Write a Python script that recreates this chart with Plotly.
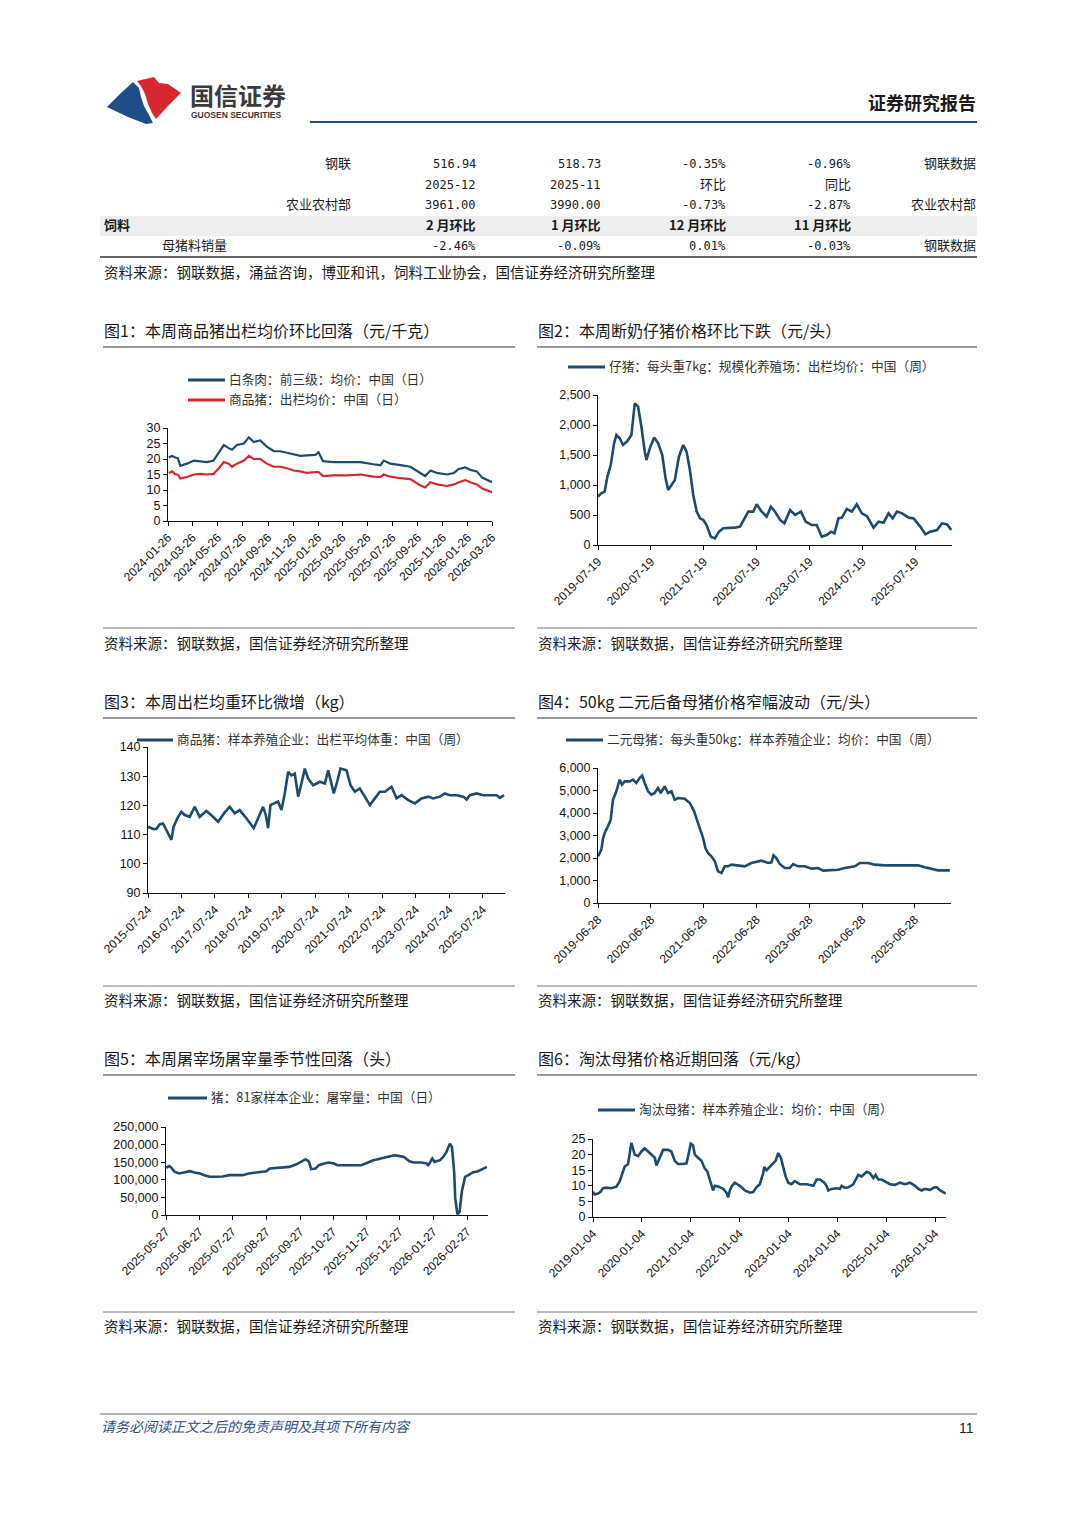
import plotly.graph_objects as go

W, H = 1080, 1527
OFF = 8                      # page body margin of the browser
FW, FH = W - OFF, H - OFF    # figure size so that the page fits the window
CJK = "Noto Sans CJK SC"
LAT = "Liberation Sans, Arial"
MONO = "DejaVu Sans Mono"
BLUE = "#1d4b6f"
RED = "#d9262c"

def PX(x):
    return (x - OFF) / FW

def PY(y):
    return 1 - (y - OFF) / FH

# ---------------- data ----------------
# Chart 1: white-strip pork vs live hog price (yuan/kg)
c1_dates = ["2024-01-28","2024-02-05","2024-02-13","2024-02-19","2024-02-25","2024-03-12","2024-03-29","2024-04-14","2024-04-30","2024-05-16",
            "2024-05-29","2024-06-10","2024-06-22","2024-06-30","2024-07-12","2024-07-29","2024-08-10","2024-08-22","2024-09-07","2024-09-23",
            "2024-10-10","2024-10-26","2024-11-11","2024-11-27","2024-12-14","2024-12-30","2025-01-19","2025-01-27","2025-02-07","2025-03-05",
            "2025-04-06","2025-05-09","2025-06-10","2025-06-27","2025-07-05","2025-07-21","2025-08-15","2025-09-08","2025-10-02","2025-10-14",
            "2025-10-27","2025-11-12","2025-12-06","2025-12-23","2026-01-04","2026-01-20","2026-02-01","2026-02-17","2026-03-02","2026-03-26"]
c1_pork = [20.5,21,20.5,20.3,17.8,18.5,19.5,19.3,19,19.5,
           22,24.5,23.5,23,24.5,25,27,25.5,26,24,
           22.5,22.5,22,21.5,21,21.2,21.3,22.2,19.3,19,
           19,19,18.3,18,19.5,18.5,18,17.5,15.5,14.5,
           16.3,15.5,15,15.5,16.8,17.3,16.5,16,14,12.5]
c1_hog = [15.5,16,15,15,13.7,14.2,15,15.2,15,15.2,
          17,19,18.5,17.5,18.5,19.5,21,20,20,18.5,
          17.5,17.5,17,16.3,16,15.5,15.8,15.8,14.5,14.7,
          14.7,15,14.3,14.2,15,14.3,13.8,13.5,11.5,10.8,
          12.5,11.8,11.3,11.8,12.5,13.2,12.5,11.8,10.5,9.3]
c1_ticks = ["2024-01-26","2024-03-26","2024-05-26","2024-07-26","2024-09-26","2024-11-26","2025-01-26",
            "2025-03-26","2025-05-26","2025-07-26","2025-09-26","2025-11-26","2026-01-26","2026-03-26"]

# Chart 2: weaned piglet price (yuan/head)
c2_dates = ["2019-07-19","2019-08-11","2019-09-03","2019-09-22","2019-10-15","2019-11-07","2019-11-23","2019-12-16","2020-01-08","2020-02-07",
            "2020-03-06","2020-03-29","2020-04-21","2020-05-14","2020-06-06","2020-06-18","2020-07-11","2020-08-10","2020-09-07","2020-10-05",
            "2020-10-28","2020-11-15","2020-12-08","2020-12-31","2021-01-28","2021-02-27","2021-03-22","2021-04-14","2021-05-07","2021-05-31",
            "2021-06-23","2021-07-16","2021-08-07","2021-09-06","2021-10-04","2021-11-01","2021-12-01","2022-01-04","2022-02-19","2022-03-26",
            "2022-04-25","2022-05-23","2022-06-26","2022-07-19","2022-08-23","2022-09-26","2022-10-26","2022-11-23","2022-12-28","2023-01-27",
            "2023-03-07","2023-04-11","2023-05-22","2023-06-23","2023-08-04","2023-09-07","2023-10-12","2023-11-15","2023-12-15","2024-01-08",
            "2024-02-04","2024-02-28","2024-04-02","2024-05-07","2024-06-10","2024-07-15","2024-08-19","2024-10-04","2024-11-08","2024-12-12",
            "2025-01-16","2025-02-13","2025-03-15","2025-04-19","2025-06-04","2025-07-08","2025-08-23","2025-09-27","2025-10-31","2025-12-16",
            "2026-01-20","2026-02-24","2026-03-25"]
c2_vals = [805,860,890,1140,1333,1690,1833,1780,1667,1733,
           1833,2360,2305,1970,1556,1417,1611,1790,1694,1500,
           1111,917,1000,1083,1472,1667,1556,1250,833,556,
           444,417,333,139,111,222,278,278,289,306,
           444,556,556,678,556,472,639,556,417,361,
           583,500,556,389,333,333,139,167,222,194,
           444,456,600,556,678,528,483,289,389,372,
           528,444,556,528,456,444,306,178,222,250,
           361,344,250]
c2_ticks = ["2019-07-19","2020-07-19","2021-07-19","2022-07-19","2023-07-19","2024-07-19","2025-07-19"]

# Chart 3: average slaughter weight (kg)
c3_dates = ["2015-07-24","2015-09-17","2015-10-23","2015-11-28","2016-01-04","2016-02-09","2016-03-17","2016-04-04","2016-04-29","2016-06-16",
            "2016-07-22","2016-08-28","2016-10-21","2016-12-15","2017-02-07","2017-04-21","2017-07-03","2017-08-27","2017-11-08","2018-01-01",
            "2018-02-25","2018-04-20","2018-07-02","2018-08-26","2018-09-20","2018-11-07","2018-12-31","2019-01-30","2019-02-24","2019-03-22",
            "2019-05-08","2019-06-13","2019-07-20","2019-08-25","2019-10-01","2019-11-06","2019-12-12","2020-01-18","2020-02-23","2020-03-31",
            "2020-05-06","2020-06-30","2020-09-11","2020-11-04","2020-12-11","2021-01-16","2021-02-10","2021-03-19","2021-04-24","2021-06-29",
            "2021-08-12","2021-09-28","2021-11-21","2022-01-15","2022-03-11","2022-05-04","2022-06-28","2022-08-22","2022-11-02","2022-12-27",
            "2023-02-20","2023-05-04","2023-07-15","2023-09-26","2023-12-08","2024-02-01","2024-04-13","2024-06-07","2024-08-01","2024-10-13",
            "2024-12-24","2025-01-30","2025-03-07","2025-05-19","2025-07-31","2025-10-12","2025-12-24","2026-01-29","2026-03-14"]
c3_vals = [112.7,111.9,111.9,113.5,113.8,111.6,109.3,108.2,112.7,116.1,
           117.8,116.7,116.1,119.5,116.1,118.1,116.1,114.4,117.6,119.5,
           117.3,118.4,115.6,113.3,112.2,115.6,119.5,116.7,112.2,120.1,
           120.7,121.3,118.4,124.1,131.5,130.3,130.9,123.0,127.5,132.6,
           129.2,126.9,128.1,127.5,132.0,126.9,124.1,128.1,132.6,132.0,
           126.9,124.7,125.8,123.0,120.1,122.4,124.7,124.7,126.4,122.4,
           123.5,121.8,120.7,122.4,123.0,122.4,123.0,124.1,123.5,123.5,
           123.0,122.0,123.5,124.1,123.5,123.5,123.5,122.6,123.5]
c3_ticks = ["2015-07-24","2016-07-24","2017-07-24","2018-07-24","2019-07-24","2020-07-24",
            "2021-07-24","2022-07-24","2023-07-24","2024-07-24","2025-07-24"]

# Chart 4: 50kg binary gilt price (yuan/head)
c4_dates = ["2019-06-28","2019-07-21","2019-08-02","2019-08-18","2019-09-05","2019-09-24","2019-10-10","2019-11-02","2019-11-25","2019-12-11",
            "2019-12-30","2020-02-02","2020-02-25","2020-03-19","2020-04-11","2020-04-28","2020-05-16","2020-06-08","2020-07-01","2020-07-24",
            "2020-08-16","2020-09-04","2020-10-01","2020-10-25","2020-11-17","2020-12-10","2021-01-02","2021-02-17","2021-03-24","2021-04-23",
            "2021-05-16","2021-06-01","2021-06-24","2021-07-10","2021-07-28","2021-08-20","2021-09-13","2021-10-06","2021-10-29","2021-11-21",
            "2021-12-14","2022-01-06","2022-02-21","2022-04-08","2022-05-24","2022-06-28","2022-08-02","2022-09-17","2022-10-10","2022-10-24",
            "2022-11-13","2022-12-06","2023-01-10","2023-02-14","2023-03-09","2023-04-12","2023-05-29","2023-07-14","2023-08-29","2023-10-02",
            "2023-11-29","2024-01-14","2024-02-29","2024-05-09","2024-06-12","2024-08-09","2024-09-24","2024-12-02","2025-03-28","2025-07-21",
            "2025-09-05","2025-10-21","2025-12-06","2026-02-25"]
c4_vals = [2074,2370,2889,3185,3407,3704,4593,4963,5481,5259,
           5407,5407,5481,5333,5556,5659,5333,4963,4815,4889,
           5111,4889,5185,4889,4963,4593,4667,4637,4444,4074,
           3630,3333,2889,2444,2222,2074,1852,1407,1333,1630,
           1630,1704,1674,1630,1778,1822,1881,1778,1807,2119,
           2000,1733,1556,1556,1733,1630,1630,1526,1556,1437,
           1452,1481,1556,1630,1778,1778,1704,1674,1674,1674,
           1585,1511,1452,1452]
c4_ticks = ["2019-06-28","2020-06-28","2021-06-28","2022-06-28","2023-06-28","2024-06-28","2025-06-28"]

# Chart 5: daily slaughter volume, 81 sample companies (head)
c5_dates = ["2025-05-27","2025-05-30","2025-06-01","2025-06-04","2025-06-08","2025-06-13","2025-06-18","2025-06-22","2025-06-27","2025-07-01",
            "2025-07-06","2025-07-12","2025-07-18","2025-07-24","2025-07-30","2025-08-05","2025-08-11","2025-08-17","2025-08-24","2025-08-27",
            "2025-08-30","2025-09-05","2025-09-11","2025-09-17","2025-09-23","2025-09-28","2025-10-02","2025-10-05","2025-10-07","2025-10-11",
            "2025-10-14","2025-10-19","2025-10-23","2025-10-28","2025-10-31","2025-11-08","2025-11-16","2025-11-22","2025-11-28","2025-12-03",
            "2025-12-07","2025-12-12","2025-12-18","2025-12-22","2025-12-26","2025-12-31","2026-01-05","2026-01-09","2026-01-16","2026-01-21",
            "2026-01-22","2026-01-26","2026-01-28","2026-02-02","2026-02-05","2026-02-08","2026-02-11","2026-02-13","2026-02-15","2026-02-16",
            "2026-02-18","2026-02-20","2026-02-22","2026-02-25","2026-02-28","2026-03-04","2026-03-09","2026-03-14","2026-03-17"]
c5_vals = [134000,139000,134000,122600,118000,120800,124500,120800,118000,113200,
           108500,108500,109400,113200,113200,113200,118000,119800,122600,124500,
           132000,134000,134000,136800,143400,152800,158500,151000,130200,132000,
           141500,146200,149000,146200,141500,141500,141500,141500,149000,155700,
           158500,162300,167900,169800,167900,165000,152800,149000,149000,146200,
           139600,160400,151000,155700,165000,179200,202800,193400,122600,47200,
           1900,9400,66000,108500,113200,120800,124500,132000,136800]
c5_ticks = ["2025-05-27","2025-06-27","2025-07-27","2025-08-27","2025-09-27",
            "2025-10-27","2025-11-27","2025-12-27","2026-01-27","2026-02-27"]

# Chart 6: cull sow price (yuan/kg)
c6_dates = ["2019-01-04","2019-01-16","2019-02-10","2019-03-02","2019-03-20","2019-04-14","2019-05-21","2019-06-28","2019-07-23","2019-08-09",
            "2019-08-29","2019-09-23","2019-10-18","2019-11-12","2019-12-07","2020-01-01","2020-01-26","2020-02-20","2020-03-16","2020-04-10",
            "2020-04-22","2020-05-17","2020-06-11","2020-07-18","2020-08-12","2020-09-06","2020-10-01","2020-11-08","2020-12-03","2020-12-15",
            "2021-01-04","2021-01-21","2021-02-03","2021-02-28","2021-03-25","2021-04-19","2021-05-09","2021-05-26","2021-06-08","2021-06-20",
            "2021-07-03","2021-07-28","2021-09-03","2021-09-28","2021-10-10","2021-10-23","2021-11-09","2021-11-29","2022-01-06","2022-02-12",
            "2022-03-22","2022-04-16","2022-05-10","2022-06-04","2022-06-29","2022-07-07","2022-07-24","2022-08-31","2022-09-12","2022-09-30",
            "2022-10-20","2022-11-09","2022-11-26","2022-12-14","2023-01-03","2023-01-27","2023-02-21","2023-03-31","2023-05-20","2023-07-09",
            "2023-08-03","2023-08-28","2023-09-29","2023-10-16","2023-10-29","2023-11-23","2023-12-30","2024-01-24","2024-02-06","2024-03-02",
            "2024-03-27","2024-05-03","2024-05-15","2024-06-09","2024-07-04","2024-08-11","2024-09-05","2024-09-30","2024-10-17","2024-11-06",
            "2024-12-01","2024-12-26","2025-02-01","2025-03-11","2025-04-17","2025-05-25","2025-07-01","2025-08-08","2025-09-02","2025-09-26",
            "2025-10-21","2025-11-28","2025-12-30","2026-01-17","2026-02-11","2026-03-25"]
c6_vals = [8.1,7.2,7.5,8.1,9.2,9.4,9.2,9.7,11.5,14,
           16.2,17,23.8,20,19.5,21,22,21,20,19,
           16.5,19,21.5,21.5,21,18,17,17,17.2,19.5,
           23.5,23,20,19,18,15.5,14.5,12,10.5,8.5,
           10,9.8,9,7.8,6.3,8.5,10,11,10,8.5,
           7.8,8,9.5,10.5,14,16,15,16.5,17,18,
           20.5,19,16,13,11,10.5,11.5,10.5,10.5,10,
           12,12,11,10,8.5,9,9.2,9,10,9.3,
           9.5,10.5,11.5,13.5,13,14.5,14,12.5,13.5,12,
           12,11.3,10.5,10.3,11,10.5,11,10,9,8.5,
           9,8.7,9.5,9.5,8.5,7.5]
c6_ticks = ["2019-01-04","2020-01-04","2021-01-04","2022-01-04","2023-01-04","2024-01-04","2025-01-04","2026-01-04"]

# Table
table_rows = [
    ["钢联", "516.94", "518.73", "-0.35%", "-0.96%", "钢联数据"],
    ["", "2025-12", "2025-11", "环比", "同比", ""],
    ["农业农村部", "3961.00", "3990.00", "-0.73%", "-2.87%", "农业农村部"],
    ["饲料", "2 月环比", "1 月环比", "12 月环比", "11 月环比", ""],
    ["母猪料销量", "-2.46%", "-0.09%", "0.01%", "-0.03%", "钢联数据"],
]

titles = ["图1：本周商品猪出栏均价环比回落（元/千克）",
          "图2：本周断奶仔猪价格环比下跌（元/头）",
          "图3：本周出栏均重环比微增（kg）",
          "图4：50kg 二元后备母猪价格窄幅波动（元/头）",
          "图5：本周屠宰场屠宰量季节性回落（头）",
          "图6：淘汰母猪价格近期回落（元/kg）"]
legend_names = [["白条肉：前三级：均价：中国（日）", "商品猪：出栏均价：中国（日）"],
                ["仔猪：每头重7kg：规模化养殖场：出栏均价：中国（周）"],
                ["商品猪：样本养殖企业：出栏平均体重：中国（周）"],
                ["二元母猪：每头重50kg：样本养殖企业：均价：中国（周）"],
                ["猪：81家样本企业：屠宰量：中国（日）"],
                ["淘汰母猪：样本养殖企业：均价：中国（周）"]]
chart_source = "资料来源：钢联数据，国信证券经济研究所整理"
table_source = "资料来源：钢联数据，涌益咨询，博亚和讯，饲料工业协会，国信证券经济研究所整理"

# ---------------- figure ----------------
fig = go.Figure()
annotations = []
shapes = []

def txt(x, y, s, size=13, anchor="left", color="#222", family=CJK):
    if family == CJK:
        y -= 1.5   # CJK line box sits a little low
    annotations.append(dict(x=PX(x), y=PY(y), xref="paper", yref="paper", text=s,
                            showarrow=False, xanchor=anchor, yanchor="middle",
                            borderpad=0,
                            font=dict(family=family, size=size, color=color)))

def hline(x0, x1, y, color="#444", width=1):
    shapes.append(dict(type="line", xref="paper", yref="paper",
                       x0=PX(x0), x1=PX(x1), y0=PY(y), y1=PY(y),
                       line=dict(color=color, width=width)))

def rect(x0, x1, y0, y1, color):
    shapes.append(dict(type="rect", xref="paper", yref="paper",
                       x0=PX(x0), x1=PX(x1), y0=PY(y1), y1=PY(y0),
                       line=dict(width=0), fillcolor=color, layer="below"))

def poly(pts, color):
    p = "M " + " L ".join(f"{PX(a):.5f},{PY(b):.5f}" for a, b in pts) + " Z"
    shapes.append(dict(type="path", xref="paper", yref="paper", path=p,
                       fillcolor=color, line=dict(width=0)))

charts = [
    dict(series=[(c1_dates, c1_pork, BLUE, 2.2), (c1_dates, c1_hog, RED, 2.2)],
         box=(168, 492, 428, 521), yr=[0, 30], yt=list(range(0, 31, 5)),
         xr=["2024-01-26", "2026-03-26"], xt=c1_ticks, leg=(188, 225, [380, 400])),
    dict(series=[(c2_dates, c2_vals, BLUE, 2.6)],
         box=(598, 952, 395, 545), yr=[0, 2500], yt=list(range(0, 2501, 500)),
         xr=["2019-07-19", "2026-03-30"], xt=c2_ticks, leg=(568, 605, [367])),
    dict(series=[(c3_dates, c3_vals, BLUE, 2.6)],
         box=(148, 505, 747, 893), yr=[90, 140], yt=list(range(90, 141, 10)),
         xr=["2015-07-24", "2026-03-25"], xt=c3_ticks, leg=(137, 173, [740])),
    dict(series=[(c4_dates, c4_vals, BLUE, 2.6)],
         box=(598, 951, 768, 903), yr=[0, 6000], yt=list(range(0, 6001, 1000)),
         xr=["2019-06-28", "2026-03-05"], xt=c4_ticks, leg=(566, 603, [740])),
    dict(series=[(c5_dates, c5_vals, BLUE, 2.6)],
         box=(166, 488, 1127, 1215), yr=[0, 250000], yt=list(range(0, 250001, 50000)),
         xr=["2025-05-27", "2026-03-18"], xt=c5_ticks, leg=(168, 207, [1098])),
    dict(series=[(c6_dates, c6_vals, BLUE, 2.6)],
         box=(593, 946, 1139, 1217), yr=[0, 25], yt=list(range(0, 26, 5)),
         xr=["2019-01-04", "2026-03-27"], xt=c6_ticks, leg=(598, 635, [1110])),
]

axis_common = dict(showline=True, linecolor="#111", linewidth=1, ticks="outside",
                   ticklen=4, tickcolor="#111", showgrid=False, zeroline=False,
                   fixedrange=True, automargin=False)
layout_axes = {}
for i, c in enumerate(charts, start=1):
    sx = "" if i == 1 else str(i)
    x0, x1, ytop, ybot = c["box"]
    for (xs, ys, col, w) in c["series"]:
        fig.add_trace(go.Scatter(x=xs, y=ys, mode="lines", line=dict(color=col, width=w),
                                 xaxis="x" + sx, yaxis="y" + sx, hoverinfo="skip",
                                 showlegend=False))
    layout_axes["xaxis" + sx] = dict(axis_common, domain=[PX(x0), PX(x1)], type="date",
                                     range=c["xr"], anchor="y" + sx, tickvals=c["xt"],
                                     ticktext=c["xt"], tickangle=-45,
                                     tickfont=dict(family=LAT, size=12, color="#111"))
    layout_axes["yaxis" + sx] = dict(axis_common, domain=[PY(ybot), PY(ytop)],
                                     range=c["yr"], anchor="x" + sx, tickvals=c["yt"],
                                     tickformat=",", tickfont=dict(family=LAT, size=12.5, color="#111"))
    lx0, lx1, lys = c["leg"]
    for k, ly in enumerate(lys):
        col = c["series"][k][2]
        shapes.append(dict(type="line", xref="paper", yref="paper", x0=PX(lx0), x1=PX(lx1),
                           y0=PY(ly), y1=PY(ly), line=dict(color=col, width=3)))
        txt(lx1 + 3, ly, legend_names[i - 1][k], size=12.7, color="#333")

# titles, rules, sources
rows_y = [(331, 347, 628, 644), (702, 718, 986, 1001), (1059, 1075, 1312, 1327)]
for r, (ty, ry, by, sy) in enumerate(rows_y):
    for side, (lx, rx) in enumerate([(103, 515), (537, 977)]):
        txt(lx, ty, titles[r * 2 + side], size=16, color="#1a1a1a")
        hline(lx, rx, ry, color="#333", width=1.2)
        hline(lx, rx, by, color="#777", width=1.2)
        txt(lx, sy, chart_source, size=14.5, color="#1a1a1a")

# header
poly([(107, 107), (121, 93), (133, 82), (139, 88), (141, 97), (144, 106), (149, 115),
      (153, 123), (146, 124), (128, 117)], "#1d4e89")
poly([(137, 81), (154, 77), (159, 83), (168, 84), (181, 93), (168, 106), (156, 119),
      (152, 113), (148, 104), (145, 94), (141, 86)], "#d7282f")
txt(189, 96, "<b>国信证券</b>", size=24, color="#3a3a3a")
txt(190, 115, "<b>GUOSEN SECURITIES</b>", size=8.5, color="#3a3a3a", family=LAT)
txt(977, 103, "<b>证券研究报告</b>", size=18, anchor="right", color="#1a1a1a")
hline(310, 977, 122, color="#1e4d78", width=2.2)

# table
rect(100, 977, 216, 236, "#eeeeee")
row_y = [164, 185, 205, 226, 246]
col_right = [352, 477, 602, 727, 852, 977]
for ri, row in enumerate(table_rows):
    for ci, cell in enumerate(row):
        if not cell:
            continue
        is_num = all(ch in "0123456789.-%" for ch in cell)
        fam = MONO if is_num else CJK
        size = 12 if is_num else 13
        s = f"<b>{cell}</b>" if ri == 3 else cell
        if ci == 0 and ri == 3:
            txt(103, row_y[ri], s, size=13, color="#1a1a1a")
        elif ci == 0 and ri == 4:
            txt(161, row_y[ri], s, size=13, color="#1a1a1a")
        else:
            txt(col_right[ci], row_y[ri], s, size=size, anchor="right", color="#1a1a1a", family=fam)
hline(100, 977, 257, color="#333", width=1.5)
txt(103, 273, table_source, size=14.5, color="#1a1a1a")

# footer
hline(100, 977, 1414, color="#666", width=1)
txt(100, 1427, "<i>请务必阅读正文之后的免责声明及其项下所有内容</i>", size=14, color="#2f4f7f")
txt(975, 1428, "11", size=14, anchor="right", color="#222", family=LAT)

fig.update_layout(width=FW, height=FH, autosize=False, template="none",
                  margin=dict(l=0, r=0, t=0, b=0, pad=0),
                  paper_bgcolor="white", plot_bgcolor="rgba(0,0,0,0)",
                  showlegend=False, annotations=annotations, shapes=shapes,
                  font=dict(family=CJK, color="#222"), **layout_axes)

fig.write_html("out.html")
